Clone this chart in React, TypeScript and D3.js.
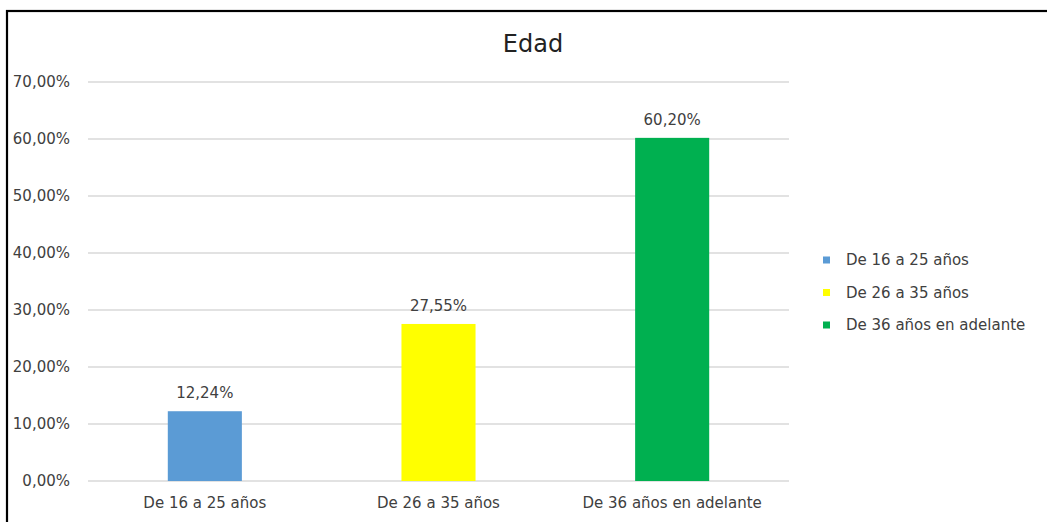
import React from "react";
import * as d3 from "d3";

const categories = ["De 16 a 25 años", "De 26 a 35 años", "De 36 años en adelante"];
const values = [12.24, 27.55, 60.2];
const colors = ["#5b9bd5", "#ffff00", "#00b050"];
const yTicks = [0, 10, 20, 30, 40, 50, 60, 70];
const title = "Edad";

const fmt = (v: number) => v.toFixed(2).replace(".", ",") + "%";

export default function App() {
  const W = 1047;
  const H = 522;
  const plot = { left: 88, right: 789, top: 82, bottom: 481 };
  const x = d3.scaleBand<string>().domain(categories).range([plot.left, plot.right]).padding(0);
  const y = d3.scaleLinear().domain([0, 70]).range([plot.bottom, plot.top]);
  const barW = x.bandwidth() * 0.317;
  const font = "'DejaVu Sans', sans-serif";
  const textColor = "#404040";

  return (
    <svg
      width={W}
      height={H}
      style={{ position: "absolute", left: 0, top: 0, background: "#fff" }}
      fontFamily={font}
    >
      <rect x={0} y={0} width={W} height={H} fill="#fff" />
      <rect x={7} y={11} width={W + 20} height={H + 20} fill="none" stroke="#000" strokeWidth={2.2} />
      <text x={533} y={52} textAnchor="middle" fontSize={24} fill="#222">
        {title}
      </text>
      {yTicks.map((t) => (
        <g key={t}>
          <line x1={plot.left} x2={plot.right} y1={y(t)} y2={y(t)} stroke="#d9d9d9" strokeWidth={1.3} />
          <text x={70} y={y(t)} dy="0.36em" textAnchor="end" fontSize={15} fill={textColor}>
            {fmt(t)}
          </text>
        </g>
      ))}
      {categories.map((c, i) => {
        const cx = (x(c) as number) + x.bandwidth() / 2;
        return (
          <g key={c}>
            <rect x={cx - barW / 2} y={y(values[i])} width={barW} height={y(0) - y(values[i])} fill={colors[i]} />
            <text x={cx} y={y(values[i]) - 13} textAnchor="middle" fontSize={15} fill={textColor}>
              {fmt(values[i])}
            </text>
            <text x={cx} y={508} textAnchor="middle" fontSize={15} fill={textColor}>
              {c}
            </text>
          </g>
        );
      })}
      {categories.map((c, i) => (
        <g key={"lg" + c} transform={`translate(823, ${260 + i * 32.5})`}>
          <rect x={0} y={-3.5} width={7} height={7} fill={colors[i]} />
          <text x={23} y={0} dy="0.36em" fontSize={15} fill={textColor}>
            {c}
          </text>
        </g>
      ))}
    </svg>
  );
}
